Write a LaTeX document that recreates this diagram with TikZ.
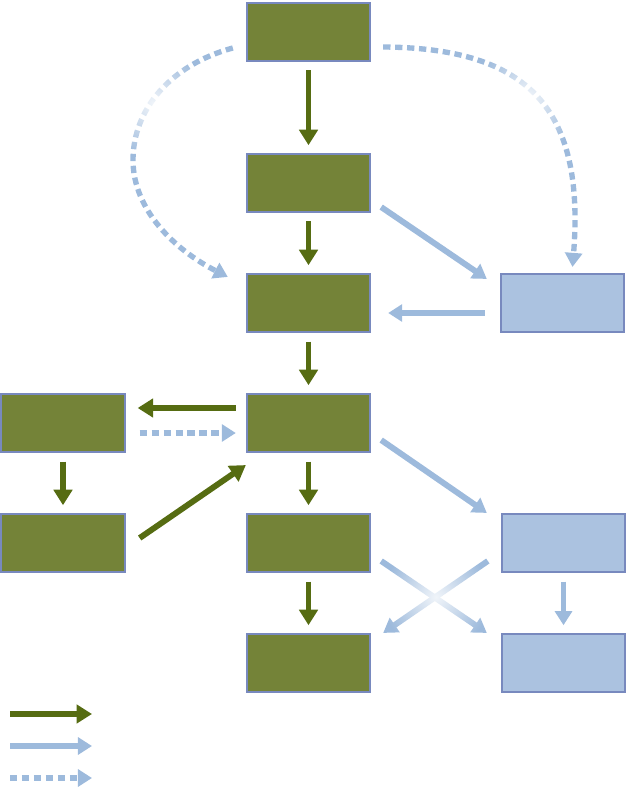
\documentclass[tikz,border=0pt]{standalone}
\usetikzlibrary{arrows.meta,calc,fadings}
\definecolor{boxgreen}{RGB}{116,131,56}
\definecolor{arrowgreen}{RGB}{86,108,18}
\definecolor{boxblue}{RGB}{171,194,224}
\definecolor{lineblue}{RGB}{157,186,220}
\definecolor{edgeblue}{RGB}{120,137,190}
\tikzfading[name=softspot,inner color=transparent!0,outer color=transparent!100]

\begin{document}
\begin{tikzpicture}[x=0.025cm,y=-0.025cm,
  box/.style={draw=edgeblue,line width=1.5pt,minimum width=3.08cm,minimum height=1.45cm,inner sep=0pt},
  greenbox/.style={box,fill=boxgreen},
  bluebox/.style={box,fill=boxblue},
  garrow/.style={draw=arrowgreen,line width=4.2pt,-{Triangle[length=11pt,width=13pt]}},
  barrow/.style={draw=lineblue,line width=4.2pt,-{Triangle[length=10pt,width=12pt]}},
  darrow/.style={barrow,line width=3.8pt,dash pattern=on 5.2pt off 3.3pt},
  gap/.style={shorten <=6pt,shorten >=5.5pt}]
\useasboundingbox (0,0) rectangle (631,787);
% main column
\node[greenbox] (g1) at (308.5,32){};
\node[greenbox] (g2) at (308.5,183){};
\node[greenbox] (g3) at (308.5,303){};
\node[greenbox] (g4) at (308.5,423){};
\node[greenbox] (g5) at (308.5,543){};
\node[greenbox] (g6) at (308.5,663){};
% side boxes
\node[greenbox] (l1) at (63,423){};
\node[greenbox] (l2) at (63,543){};
\node[bluebox] (r1) at (562.5,303){};
\node[bluebox] (r2) at (563.5,543){};
\node[bluebox] (r3) at (563.5,663){};
% green flow
\draw[garrow,gap] (g1)--(g2);
\draw[garrow,gap] (g2)--(g3);
\draw[garrow,gap] (g3)--(g4);
\draw[garrow,gap] (g4)--(g5);
\draw[garrow,gap] (g5)--(g6);
\draw[garrow,gap] (l1)--(l2);
\draw[garrow] ($(g4.west)+(-10,-15)$)--($(l1.east)+(12,-15)$);
\draw[garrow] ($(l2.east)+(14,-5)$)--($(g4.south west)+(0,12)$);
% blue flow
\draw[darrow] ($(l1.east)+(14,10)$)--($(g4.west)+(-10,10)$);
\draw[barrow] ($(g2.south east)+(10,-6)$)--($(r1.north west)+(-13,6)$);
\draw[barrow] ($(r1.west)+(-15,10)$)--($(g3.east)+(17,10)$);
\draw[barrow] ($(g4.south east)+(10,-13)$)--($(r2.north west)+(-14,0)$);
\draw[barrow] ($(g5.east)+(10,18)$)--($(r3.north west)+(-14,0)$);
\draw[barrow] ($(r2.west)+(-13,18)$)--($(g6.north east)+(12,0)$);
\draw[barrow,gap] (r2)--(r3);
% dashed loops
\draw[darrow] ($(g1.west)+(-13,16)$) .. controls (170,65) and (133,110) .. (133,160)
  .. controls (133,210) and (175,250) .. ($(g3.north west)+(-18,4)$);
\draw[darrow] ($(g1.east)+(12,15)$) .. controls (530,48) and (585,110) .. ($(r1.north)+(10,-6)$);
% pale spots
\fill[white,fill opacity=0.85,path fading=softspot] (436,597) circle[radius=1.35cm];
\fill[white,fill opacity=0.85,path fading=softspot] (153,103) circle[radius=1.4cm];
\fill[white,fill opacity=0.85,path fading=softspot] (528,97) circle[radius=1.4cm];
% legend
\coordinate (k1) at (10,714); \coordinate (k1e) at (92,714);
\coordinate (k2) at (10,746); \coordinate (k2e) at (92,746);
\coordinate (k3) at (10,778); \coordinate (k3e) at (92,778);
\draw[garrow] (k1)--(k1e);
\draw[barrow] (k2)--(k2e);
\draw[darrow] (k3)--(k3e);
\end{tikzpicture}
\end{document}
